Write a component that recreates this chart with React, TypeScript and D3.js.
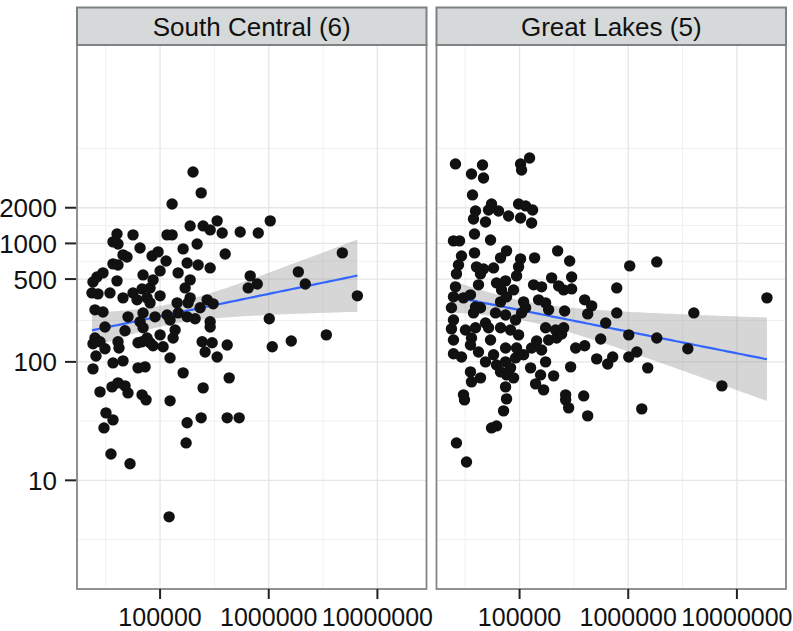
import React from "react";
import * as d3 from "d3";

const panelTitles = ["South Central (6)", "Great Lakes (5)"];
const xTicks = [100000, 1000000, 10000000];
const yTicks = [10, 100, 500, 1000, 2000];
const xDomain = [17200, 28300000];
const yDomain = [1.21, 47300];

const southCentralPop = [
  201000, 239000, 129000, 335000, 189000, 249000, 289000, 373000, 546000, 801000,
  1032000, 40150, 56360, 36880, 41020, 116000, 129000, 65420, 163000, 219300,
  45600, 49650, 84400, 95850, 113600, 397300, 36880, 41020, 177400, 224000,
  100000, 289000, 26250, 29840, 69710, 146600, 86210, 189100, 24130, 40150,
  675300, 783800, 647100, 23620, 26830, 34590, 68260, 80890, 56360, 45600,
  100000, 170000, 61380, 75880, 80890, 143500, 189100, 181100, 271100, 308000,
  233700, 25180, 29840, 50700, 69710, 89950, 116000, 123600, 146600, 177400,
  210200, 65420, 69710, 289000, 289000, 1011000, 31120, 47580, 100000, 137500,
  25180, 28000, 41020, 68260, 75880, 131800, 243800, 301400, 414500, 24130,
  31120, 41880, 62700, 80890, 86210, 106600, 259800, 335200, 25710, 123600,
  36880, 45600, 24130, 62700, 72740, 163000, 432500, 36110, 41020, 47580,
  50700, 28000, 249000, 68260, 74300, 123600, 31780, 36880, 30470, 177400,
  238800, 414500, 534600, 173600, 35330, 52910, 121100, 1077000, 1871000, 2170000,
  4757000, 6543000, 1612000, 3388000,
];
const southCentralCount = [
  4010, 2670, 2150, 1550, 1405, 1405, 1300, 1226, 1250, 1226,
  1550, 1202, 1180, 1030, 990, 1180, 1180, 916, 899, 990,
  800, 769, 784, 848, 711, 815, 672, 658, 684, 658,
  586, 621, 521, 564, 542, 564, 492, 492, 473, 483,
  532, 455, 421, 382, 375, 382, 413, 421, 382, 347,
  361, 421, 334, 347, 315, 315, 347, 315, 334, 309,
  286, 275, 264, 240, 259, 240, 249, 226, 259, 240,
  231, 218, 194, 218, 197, 231, 197, 183, 169, 186,
  159, 148, 148, 148, 159, 159, 148, 145, 139, 142,
  129, 131, 145, 145, 137, 134, 121, 110, 112, 108,
  98, 102, 87.3, 89, 90.7, 80.8, 73.3, 61.5, 66.5, 62.7,
  54.7, 55.8, 60.3, 52.7, 47.8, 46.9, 37.1, 32.4, 27.7, 30.6,
  33.7, 33.7, 33.7, 20.7, 16.7, 13.8, 4.92, 134, 575, 455,
  832, 361, 150, 169,
];

const greatLakesPop = [
  25710, 45600, 36110, 46560, 102100, 104300, 123600, 36880, 55200, 51810,
  64040, 39310, 37670, 48600, 79180, 97900, 113600, 131800, 102100, 129000,
  38480, 24650, 28000, 54050, 29210, 38480, 75880, 66820, 102100, 137500,
  224000, 289000, 27400, 26250, 40150, 46560, 57600, 43710, 97900, 93840,
  25710, 41880, 61380, 74300, 68260, 88050, 134600, 159500, 197200, 228800,
  254400, 301400, 301400, 1032000, 783800, 783800, 24650, 30470, 35330, 23620,
  39310, 43710, 37670, 66820, 75880, 108900, 113600, 149600, 173600, 185100,
  259800, 397300, 460900, 423400, 60090, 74300, 91860, 104300, 620300, 24650,
  31780, 48600, 23620, 39310, 51810, 66820, 82610, 97900, 173600, 214700,
  254400, 24650, 36110, 54050, 35330, 41880, 24650, 29210, 57600, 74300,
  93840, 91860, 108900, 129000, 159500, 143500, 185100, 219300, 243800, 48600,
  61380, 74300, 82610, 35330, 43710, 36110, 66820, 75880, 88050, 126300,
  173600, 156100, 140500, 166400, 205800, 295100, 74300, 30470, 31120, 75880,
  71210, 55200, 61380, 265400, 265400, 282900, 389000, 423400, 26250, 32470,
  328100, 397300, 558000, 512500, 647100, 719400, 1011000, 1011000, 1198000, 1831000,
  1831000, 3536000, 1512000, 4016000, 7272000, 1332000, 18900000,
];
const greatLakesCount = [
  4688, 4597, 3859, 3570, 4688, 4171, 5266, 2567, 2154, 1917,
  1880, 1880, 1609, 1518, 1706, 2154, 2073, 1917, 1641, 1489,
  1202, 1050, 1050, 1070, 784, 832, 865, 755, 740, 755,
  865, 711, 658, 553, 634, 609, 621, 553, 634, 532,
  430, 447, 464, 483, 405, 405, 447, 430, 512, 438,
  405, 413, 521, 646, 421, 259, 354, 347, 368, 286,
  291, 286, 259, 321, 354, 321, 286, 334, 315, 275,
  269, 334, 297, 254, 259, 249, 226, 259, 213, 226,
  186, 213, 190, 194, 194, 194, 186, 169, 194, 186,
  194, 153, 159, 153, 139, 121, 117, 110, 115, 131,
  131, 108, 115, 131, 126, 150, 153, 159, 172, 100,
  94, 100, 89, 82.3, 73.3, 67.8, 82.3, 77.6, 73.3, 89,
  100, 77.6, 65.2, 58, 76.2, 90.7, 61.5, 52.7, 47.8, 48.7,
  38.6, 27.7, 28.8, 52.7, 47.8, 40.9, 51.6, 35, 20.7, 14.3,
  131, 137, 156, 106, 96, 110, 169, 110, 121, 698,
  159, 129, 89, 259, 62.7, 40.1, 347,
];

const panelsData = [
  { title: panelTitles[0], pop: southCentralPop, count: southCentralCount },
  { title: panelTitles[1], pop: greatLakesPop, count: greatLakesCount },
];

function fitBand(xs: number[], ys: number[]) {
  const lx = xs.map((v) => Math.log10(v));
  const ly = ys.map((v) => Math.log10(v));
  const n = lx.length;
  const mx = d3.mean(lx) as number;
  const my = d3.mean(ly) as number;
  let sxx = 0, sxy = 0;
  for (let i = 0; i < n; i++) {
    sxx += (lx[i] - mx) ** 2;
    sxy += (lx[i] - mx) * (ly[i] - my);
  }
  const b = sxy / sxx;
  const a = my - b * mx;
  let sse = 0;
  for (let i = 0; i < n; i++) sse += (ly[i] - (a + b * lx[i])) ** 2;
  const s = Math.sqrt(sse / (n - 2));
  const t = 1.977;
  const lo = d3.min(lx) as number, hi = d3.max(lx) as number;
  return d3.range(80).map((i) => {
    const g = lo + ((hi - lo) * i) / 79;
    const f = a + b * g;
    const se = s * Math.sqrt(1 / n + (g - mx) ** 2 / sxx);
    return { x: 10 ** g, y: 10 ** f, lo: 10 ** (f - t * se), hi: 10 ** (f + t * se) };
  });
}

function minorBreaks(major: number[]) {
  const b = major.map((v) => Math.log10(v));
  const bd = b[1] - b[0];
  const ext = [b[0] - bd, ...b, b[b.length - 1] + bd];
  const out: number[] = [];
  for (let i = 0; i < ext.length - 1; i++) out.push((ext[i] + ext[i + 1]) / 2);
  return out.map((v) => 10 ** v);
}

const W = 793, H = 631;
const panelTop = 45, panelBottom = 589, stripTop = 7.5;
const panelX = [[77, 426.5], [436.5, 786]];
const FONT = "'Liberation Sans', Arial, Helvetica, sans-serif";

export default function App() {
  const y = d3.scaleLog().domain(yDomain).range([panelBottom, panelTop]);
  const yMinor = minorBreaks(yTicks);
  const xMinor = minorBreaks(xTicks);
  return (
    <svg width={W} height={H} style={{ position: "fixed", left: 0, top: 0, display: "block", background: "#fff" }}>
      <defs>
        {panelX.map((p, i) => (
          <clipPath id={`clip${i}`} key={i}>
            <rect x={p[0]} y={panelTop} width={p[1] - p[0]} height={panelBottom - panelTop} />
          </clipPath>
        ))}
      </defs>
      {panelsData.map((pd, i) => {
        const [x0, x1] = panelX[i];
        const x = d3.scaleLog().domain(xDomain).range([x0, x1]);
        const fit = fitBand(pd.pop, pd.count);
        const area = d3.area<any>().x((d) => x(d.x)).y0((d) => y(d.lo)).y1((d) => y(d.hi));
        const line = d3.line<any>().x((d) => x(d.x)).y((d) => y(d.y));
        return (
          <g key={i}>
            <g clipPath={`url(#clip${i})`}>
              {yMinor.map((v, k) => (
                <line key={"ym" + k} x1={x0} x2={x1} y1={y(v)} y2={y(v)} stroke="#f0f0f0" strokeWidth={1} />
              ))}
              {xMinor.map((v, k) => (
                <line key={"xm" + k} x1={x(v)} x2={x(v)} y1={panelTop} y2={panelBottom} stroke="#f0f0f0" strokeWidth={1} />
              ))}
              {yTicks.map((v, k) => (
                <line key={"yM" + k} x1={x0} x2={x1} y1={y(v)} y2={y(v)} stroke="#e6e6e6" strokeWidth={1.3} />
              ))}
              {xTicks.map((v, k) => (
                <line key={"xM" + k} x1={x(v)} x2={x(v)} y1={panelTop} y2={panelBottom} stroke="#e6e6e6" strokeWidth={1.3} />
              ))}
              <path d={area(fit) as string} fill="#999999" fillOpacity={0.4} />
              <path d={line(fit) as string} fill="none" stroke="#3366FF" strokeWidth={2.2} />
              {pd.pop.map((v, k) => (
                <circle key={k} cx={x(v)} cy={y(pd.count[k])} r={5.7} fill="#111" />
              ))}
            </g>
            <rect x={x0} y={panelTop} width={x1 - x0} height={panelBottom - panelTop} fill="none" stroke="#858585" strokeWidth={1.8} />
            <rect x={x0} y={stripTop} width={x1 - x0} height={panelTop - stripTop} fill="#d6d9d9" stroke="#7d8282" strokeWidth={2} />
            <text x={(x0 + x1) / 2} y={36} textAnchor="middle" fontFamily={FONT} fontSize={26} fill="#111">
              {pd.title}
            </text>
            {xTicks.map((v, k) => (
              <g key={"xt" + k}>
                <line x1={x(v)} x2={x(v)} y1={panelBottom} y2={panelBottom + 10} stroke="#222" strokeWidth={2} />
                <text x={x(v)} y={626} textAnchor="middle" fontFamily={FONT} fontSize={25} fill="#111">
                  {String(v)}
                </text>
              </g>
            ))}
          </g>
        );
      })}
      {yTicks.map((v, k) => (
        <g key={"yt" + k}>
          <line x1={65} x2={76} y1={y(v)} y2={y(v)} stroke="#222" strokeWidth={2} />
          <text x={57} y={y(v) + 9.5} textAnchor="end" fontFamily={FONT} fontSize={26} fill="#111">
            {String(v)}
          </text>
        </g>
      ))}
    </svg>
  );
}
